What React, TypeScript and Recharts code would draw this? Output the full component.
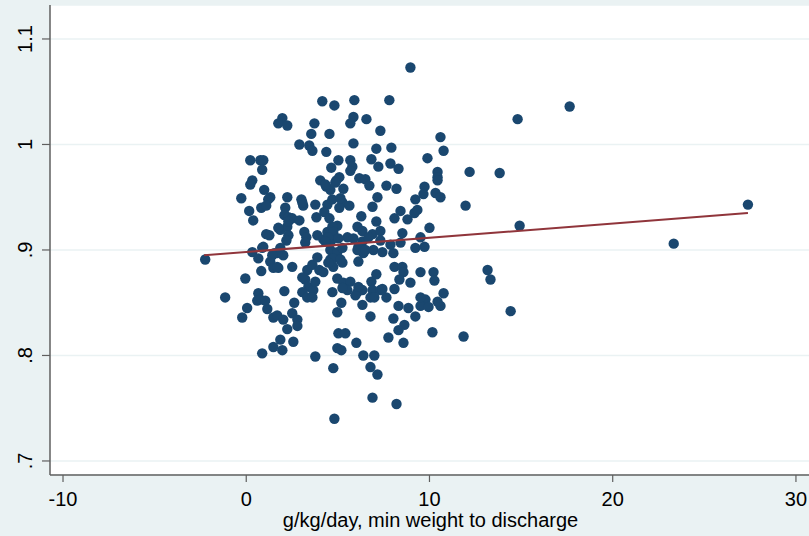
import React from "react";
import { ScatterChart, Scatter, XAxis, YAxis, CartesianGrid } from "recharts";

// g/kg/day, min weight to discharge
const weightGain: number[] = [
  8.96, 4.15, 4.81, 5.9, 7.81, 1.97, 1.75, 2.24, 3.72, 5.85, 5.68, 6.56, 7.32, 3.55, 4.54, 5.85, 2.9, 3.44, 3.61, 4.37,
  7.1, 7.92, 10.6, 10.77, 12.19, 9.89, 0.22, 0.77, 0.93, 0.87, 5.03, 4.64, 5.68, 5.79, 5.68, 6.83, 7.21, 7.87, 8.31, 0.33,
  0.22, 0.98, 1.31, 1.2, -0.27, 2.24, 4.04, 4.37, 4.59, 4.92, 5.08, 5.3, 6.17, 6.5, 6.72, 7.65, 8.2, 7.16, 10.44, 10.44,
  10.44, 9.73, 9.67, 10.33, 10.6, 9.23, 11.97, 0.16, 0.38, 0.82, 1.09, 2.13, 2.08, 2.3, 3.01, 3.11, 2.51, 2.9, 3.77, 4.43,
  4.7, 5.25, 5.63, 4.26, 3.83, 4.54, 5.08, 6.89, 6.28, 7.1, 8.09, 8.42, 8.8, 9.18, 9.34, 10.0, 1.09, 1.26, 1.86, 2.24,
  2.3, 2.19, 3.17, 3.28, 3.22, 3.88, 4.21, 4.43, 4.97, 4.64, 5.52, 5.85, 6.07, 6.34, 6.12, 6.89, 7.32, 7.32, 6.94, 7.43,
  8.03, 7.87, 8.42, 8.52, 9.51, 9.23, 9.73, -2.24, 0.33, 0.66, 0.93, 1.31, 1.53, 1.86, 2.02, 0.82, -0.05, 1.48, 1.75, 2.51,
  3.33, 3.61, 3.88, 3.99, 4.59, 4.75, 4.97, 5.25, 6.12, 6.39, 8.09, 8.52, 8.58, 9.51, 10.22, 10.27, -1.15, 0.66, 0.6, 0.77,
  0.05, -0.22, 1.15, 1.48, 1.69, 2.08, 2.62, 2.02, 2.51, 2.79, 2.24, 2.79, 1.86, 1.48, 1.97, 2.57, 0.87, 3.77, 4.75, 6.89,
  8.2, 4.81, 3.22, 3.39, 3.06, 3.33, 3.66, 3.61, 4.7, 4.97, 5.3, 5.68, 5.52, 6.07, 6.34, 5.96, 5.19, 4.97, 6.34, 6.78,
  6.83, 7.1, 6.89, 7.32, 6.78, 6.99, 7.65, 8.09, 8.36, 8.96, 10.77, 9.78, 9.51, 9.95, 10.6, 10.44, 8.31, 8.85, 9.23, 8.03,
  8.63, 8.31, 10.16, 11.86, 7.76, 8.58, 5.03, 5.41, 4.97, 5.19, 6.01, 6.39, 6.99, 6.78, 7.16, 14.81, 17.65, 13.83, 14.92, 13.17,
  13.33, 14.43, 23.33, 27.38, 4.7, 4.75, 4.48, 5.03, 6.34, 6.67, 4.32, 4.59, 4.97, 5.25, 6.07, 6.5, 4.75, 4.48, 5.14, 5.25,
  6.12, 7.43, 9.51, 4.86, 4.32, 5.14, 3.06, 3.77, 4.21, 1.69, 1.42, 1.69, 0.87, 1.75, 3.06, 2.3, 1.04,
];

// outcome (y axis)
const outcome: number[] = [
  1.073, 1.041, 1.037, 1.042, 1.042, 1.025, 1.02, 1.018, 1.02, 1.026, 1.02, 1.024, 1.013, 1.01, 1.01, 1.001, 1.0, 0.999, 0.994, 0.993,
  0.996, 0.997, 1.007, 0.994, 0.974, 0.987, 0.985, 0.985, 0.985, 0.976, 0.985, 0.978, 0.985, 0.979, 0.975, 0.986, 0.979, 0.982, 0.977, 0.966,
  0.962, 0.957, 0.95, 0.948, 0.949, 0.95, 0.966, 0.96, 0.957, 0.966, 0.969, 0.958, 0.968, 0.967, 0.961, 0.961, 0.958, 0.95, 0.974, 0.969,
  0.966, 0.96, 0.953, 0.954, 0.95, 0.948, 0.942, 0.937, 0.928, 0.94, 0.942, 0.94, 0.933, 0.931, 0.948, 0.942, 0.93, 0.928, 0.943, 0.943,
  0.948, 0.945, 0.942, 0.936, 0.931, 0.93, 0.94, 0.941, 0.932, 0.927, 0.93, 0.937, 0.929, 0.935, 0.938, 0.921, 0.915, 0.914, 0.919, 0.922,
  0.914, 0.909, 0.917, 0.912, 0.907, 0.914, 0.91, 0.917, 0.923, 0.909, 0.912, 0.911, 0.922, 0.918, 0.903, 0.915, 0.918, 0.909, 0.9, 0.898,
  0.897, 0.905, 0.907, 0.916, 0.912, 0.902, 0.903, 0.891, 0.898, 0.892, 0.903, 0.889, 0.897, 0.902, 0.895, 0.88, 0.873, 0.883, 0.883, 0.884,
  0.881, 0.886, 0.893, 0.881, 0.891, 0.884, 0.893, 0.888, 0.889, 0.897, 0.884, 0.884, 0.879, 0.879, 0.879, 0.871, 0.855, 0.859, 0.852, 0.853,
  0.845, 0.836, 0.844, 0.836, 0.838, 0.861, 0.85, 0.834, 0.84, 0.834, 0.825, 0.828, 0.815, 0.808, 0.805, 0.813, 0.802, 0.799, 0.788, 0.76,
  0.754, 0.74, 0.872, 0.865, 0.86, 0.855, 0.862, 0.855, 0.86, 0.873, 0.869, 0.87, 0.862, 0.86, 0.862, 0.857, 0.85, 0.841, 0.848, 0.837,
  0.87, 0.877, 0.862, 0.862, 0.855, 0.855, 0.855, 0.863, 0.872, 0.869, 0.859, 0.853, 0.847, 0.846, 0.847, 0.851, 0.847, 0.845, 0.837, 0.835,
  0.829, 0.824, 0.822, 0.818, 0.817, 0.812, 0.821, 0.821, 0.807, 0.805, 0.812, 0.8, 0.8, 0.789, 0.782, 1.024, 1.036, 0.973, 0.923, 0.881,
  0.872, 0.842, 0.906, 0.943, 0.922, 0.917, 0.912, 0.911, 0.908, 0.912, 0.908, 0.9, 0.898, 0.902, 0.9, 0.9, 0.892, 0.888, 0.891, 0.864,
  0.865, 0.863, 0.855, 0.964, 0.962, 0.949, 0.874, 0.87, 0.879, 0.897, 0.895, 0.884, 0.902, 0.921, 0.945, 0.927, 0.852,
];

// fitted line endpoints
const fitX: number[] = [-2.3, 27.38];
const fitY: number[] = [0.895, 0.935];

const xTicks: number[] = [-10, 0, 10, 20, 30];
const yTicks: number[] = [0.7, 0.8, 0.9, 1.0, 1.1];
const xTitle = "g/kg/day, min weight to discharge";

const points = weightGain.map((x, i) => ({ x, y: outcome[i] }));
const fitData = fitX.map((x, i) => ({ x, y: fitY[i] }));

const FONT = '"Liberation Sans", Arial, sans-serif';
const AXIS = "#5f5f5f";

const fmtY = (v: number) => {
  const s = String(Math.round(v * 10) / 10);
  return s.startsWith("0.") ? s.slice(1) : s;
};

const XTick = (props: any) => {
  const { x, y, payload } = props;
  return (
    <text x={x} y={y} dy={24} textAnchor="middle" fontSize={20} fontFamily={FONT} fill="#000">
      {payload.value}
    </text>
  );
};

const YTick = (props: any) => {
  const { x, y, payload } = props;
  const tx = x - 10;
  return (
    <text
      x={tx}
      y={y}
      textAnchor="middle"
      fontSize={20}
      fontFamily={FONT}
      fill="#000"
      transform={`rotate(-90, ${tx}, ${y})`}
    >
      {fmtY(payload.value)}
    </text>
  );
};

const Dot = (props: any) => {
  const { cx, cy } = props;
  if (cx == null || cy == null) return <g />;
  return <circle cx={cx} cy={cy} r={5.2} fill="#1A476F" />;
};

const NoDot = () => <g />;

const XTitle = (props: any) => {
  const vb = props.viewBox || {};
  return (
    <text
      x={(vb.x ?? 50) + (vb.width ?? 765) / 2 - 2}
      y={527}
      textAnchor="middle"
      fontSize={20}
      fontFamily={FONT}
      fill="#000"
    >
      {xTitle}
    </text>
  );
};

export default function App() {
  return (
    <div
      style={{
        position: "fixed",
        left: 0,
        top: 0,
        width: 809,
        height: 536,
        overflow: "hidden",
        background: "#EAF2F3",
      }}
    >
      <ScatterChart width={830} height={536} margin={{ top: 5, right: 15, bottom: 0, left: 0 }}>
        <CartesianGrid
          horizontal={true}
          vertical={false}
          stroke="#EAF2F3"
          strokeWidth={1.5}
          fill="#FFFFFF"
          fillOpacity={1}
        />
        <XAxis
          type="number"
          dataKey="x"
          domain={[-10.71, 31.04]}
          ticks={xTicks}
          allowDataOverflow
          height={61}
          tickSize={7}
          tickMargin={0}
          axisLine={{ stroke: AXIS, strokeWidth: 1.5 }}
          tickLine={{ stroke: AXIS, strokeWidth: 1.2 }}
          tick={<XTick />}
          label={<XTitle />}
        />
        <YAxis
          type="number"
          dataKey="y"
          domain={[0.6867, 1.1322]}
          ticks={yTicks}
          allowDataOverflow
          width={50}
          tickSize={8}
          tickMargin={0}
          axisLine={{ stroke: AXIS, strokeWidth: 1.5 }}
          tickLine={{ stroke: AXIS, strokeWidth: 1.2 }}
          tick={<YTick />}
        />
        <Scatter data={points} shape={<Dot />} isAnimationActive={false} />
        <Scatter
          data={fitData}
          line={{ stroke: "#90353B", strokeWidth: 2 }}
          shape={<NoDot />}
          isAnimationActive={false}
        />
      </ScatterChart>
    </div>
  );
}
